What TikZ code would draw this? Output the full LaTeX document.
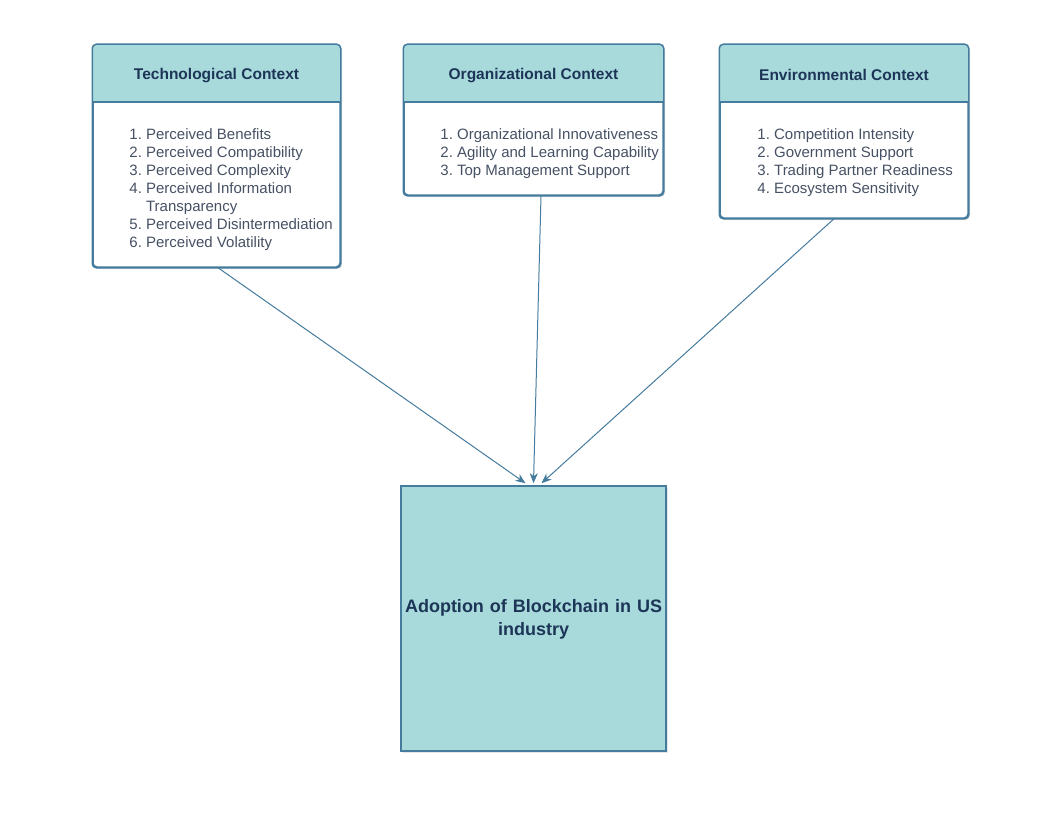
\documentclass[tikz,border=0pt]{standalone}
\usepackage{fontspec}
\setmainfont{Liberation Sans}
\usetikzlibrary{arrows.meta,shadows}
\definecolor{tealfill}{HTML}{A8DADC}
\definecolor{steel}{HTML}{457B9D}
\definecolor{navy}{HTML}{1D3557}
\definecolor{itemgray}{HTML}{465164}
\tikzset{
  ctxbox/.style={draw=steel, line width=1.5pt, fill=white, rounded corners=4pt,
    drop shadow={shadow xshift=2pt, shadow yshift=-2pt, opacity=0.2}},
  goalbox/.style={draw=steel, line width=1.5pt, fill=tealfill,
    drop shadow={shadow xshift=2pt, shadow yshift=-2pt, opacity=0.2}},
  ctxtitle/.style={text=navy, font=\fontsize{15.5}{18}\selectfont\bfseries},
  ctxlist/.style={text=itemgray, font=\fontsize{15}{18}\selectfont, inner sep=0pt, anchor=north west},
  link/.style={draw=steel, line width=1pt, -{Stealth[length=10pt,width=8pt,inset=3pt]}}
}
\begin{document}
\begin{tikzpicture}[x=1pt, y=-1pt]
    \useasboundingbox (0,0) rectangle (1054,824);
    % context boxes
    \node[ctxbox, minimum width=247pt, minimum height=222pt] (tech) at (216.5,156) {};
    \node[ctxbox, minimum width=259pt, minimum height=150pt] (org) at (533.5,120) {};
    \node[ctxbox, minimum width=248pt, minimum height=173pt] (env) at (844,131.5) {};
    \foreach \n in {tech,org,env} {
        \fill[tealfill, rounded corners=4pt] ([yshift=-58pt]\n.north west) |- (\n.north east) -- ([yshift=-58pt]\n.north east);
        \draw[steel, line width=1.5pt] ([yshift=-58pt]\n.north west) -- ([yshift=-58pt]\n.north east);
        \draw[steel, line width=1.5pt, rounded corners=4pt] (\n.north west) rectangle (\n.south east);
    }
    \node[ctxtitle] (techtitle) at ([yshift=-31pt]tech.north) {Technological Context};
    \node[ctxtitle] (orgtitle) at ([yshift=-31pt]org.north) {Organizational Context};
    \node[ctxtitle] (envtitle) at ([yshift=-31pt]env.north) {Environmental Context};
    \node[ctxlist] (techlist) at ([xshift=37pt, yshift=-82pt]tech.north west) {%
        \begin{tabular}{@{}r@{\ }l@{}}
        1. & Perceived Benefits\\
        2. & Perceived Compatibility\\
        3. & Perceived Complexity\\
        4. & Perceived Information\\
           & Transparency\\
        5. & Perceived Disintermediation\\
        6. & Perceived Volatility
        \end{tabular}};
    \node[ctxlist] (orglist) at ([xshift=37pt, yshift=-82pt]org.north west) {%
        \begin{tabular}{@{}r@{\ }l@{}}
        1. & Organizational Innovativeness\\
        2. & Agility and Learning Capability\\
        3. & Top Management Support
        \end{tabular}};
    \node[ctxlist] (envlist) at ([xshift=38pt, yshift=-82pt]env.north west) {%
        \begin{tabular}{@{}r@{\ }l@{}}
        1. & Competition Intensity\\
        2. & Government Support\\
        3. & Trading Partner Readiness\\
        4. & Ecosystem Sensitivity
        \end{tabular}};
    % outcome
    \node[goalbox, minimum width=265pt, minimum height=265pt] (adopt) at (533.5,618.5) {};
    \node[text=navy, text width=290pt, align=center, font=\fontsize{18}{23}\selectfont\bfseries] (adopttext) at ([yshift=-1pt]adopt) {Adoption of Blockchain in US\\ industry};
    % connectors
    \draw[link] ([xshift=1.5pt]tech.south) -- ([xshift=-8pt, yshift=2pt]adopt.north);
    \draw[link] ([xshift=7.5pt]org.south) -- ([yshift=2pt]adopt.north);
    \draw[link] ([xshift=-10pt]env.south) -- ([xshift=8pt, yshift=2pt]adopt.north);
\end{tikzpicture}
\end{document}
